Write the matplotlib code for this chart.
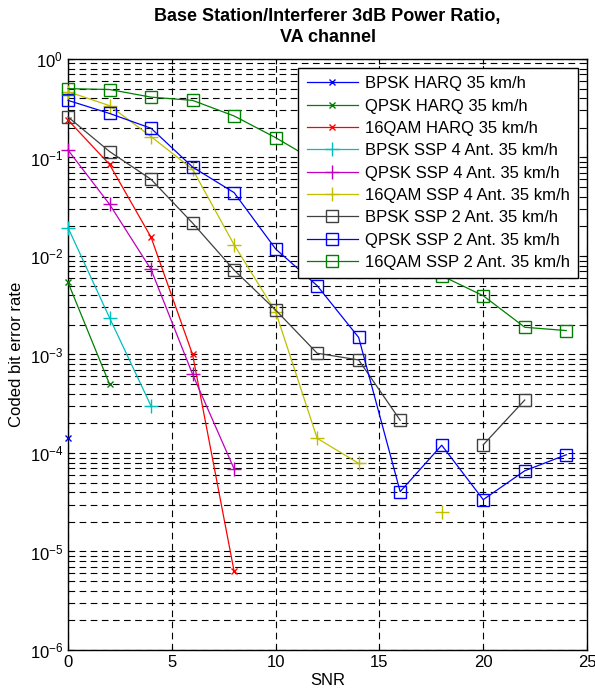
import numpy as np
import matplotlib
matplotlib.use('Agg')
import matplotlib.pyplot as plt

plt.rcParams['font.family'] = ['Liberation Sans', 'DejaVu Sans']
plt.rcParams['mathtext.default'] = 'regular'
plt.rcParams['font.size'] = 12

# SNR points and coded bit error rates (nan = no point)
snr = [0, 2, 4, 6, 8, 10, 12, 14, 16, 18, 20, 22, 24]
nan = np.nan
bpsk_harq = [1.43e-4]
qpsk_harq = [5.4e-3, 5.0e-4]
qam16_harq = [0.24, 0.085, 0.0155, 1.0e-3, 6.3e-6]
bpsk_ssp4 = [0.0194, 2.36e-3, 3.0e-4]
qpsk_ssp4 = [0.119, 0.0335, 7.3e-3, 6.3e-4, 6.9e-5]
qam16_ssp4 = [0.466, 0.336, 0.163, 0.076, 0.013, 2.72e-3, 1.41e-4, 7.85e-5, nan, 2.54e-5]
bpsk_ssp2 = [0.258, 0.115, 0.060, 0.0216, 7.2e-3, 2.83e-3, 1.03e-3, 8.8e-4, 2.15e-4, nan, 1.21e-4, 3.45e-4]
qpsk_ssp2 = [0.38, 0.28, 0.198, 0.080, 0.044, 0.0118, 5.0e-3, 1.49e-3, 4.05e-5, 1.2e-4, 3.36e-5, 6.6e-5, 9.6e-5]
qam16_ssp2 = [0.50, 0.49, 0.41, 0.38, 0.264, 0.159, 0.09, 0.04, 0.015, 6.3e-3, 3.95e-3, 1.89e-3, 1.75e-3]

labels = ['BPSK HARQ 35 km/h', 'QPSK HARQ 35 km/h', '16QAM HARQ 35 km/h',
          'BPSK SSP 4 Ant. 35 km/h', 'QPSK SSP 4 Ant. 35 km/h', '16QAM SSP 4 Ant. 35 km/h',
          'BPSK SSP 2 Ant. 35 km/h', 'QPSK SSP 2 Ant. 35 km/h', '16QAM SSP 2 Ant. 35 km/h']
series = [bpsk_harq, qpsk_harq, qam16_harq, bpsk_ssp4, qpsk_ssp4, qam16_ssp4,
          bpsk_ssp2, qpsk_ssp2, qam16_ssp2]
colors = [(0, 0, 1), (0, 0.5, 0), (1, 0, 0), (0, 0.75, 0.75), (0.75, 0, 0.75),
          (0.75, 0.75, 0), (0.25, 0.25, 0.25), (0, 0, 1), (0, 0.5, 0)]
markers = ['x', 'x', 'x', '+', '+', '+', 's', 's', 's']
msizes = [5, 5, 5, 10, 10, 10, 9, 9, 9]

fig = plt.figure(figsize=(5.95, 6.94), dpi=100)
ax = fig.add_axes([0.1143, 0.0634, 0.8723, 0.8516])

for y, c, m, ms, lab in zip(series, colors, markers, msizes, labels):
    x = snr[:len(y)]
    ax.plot(x, y, color=c, marker=m, markersize=ms, markerfacecolor='none',
            markeredgecolor=c, linewidth=0.9, label=lab, clip_on=False, zorder=3)

ax.set_yscale('log')
ax.set_xlim(0, 25)
ax.set_ylim(1e-6, 1)
ax.set_xticks([0, 5, 10, 15, 20, 25])
ax.grid(True, which='major', axis='both', color='black', linestyle=(0, (6, 4)), linewidth=0.8)
ax.grid(True, which='minor', axis='y', color='black', linestyle=(0, (6, 4)), linewidth=0.8)
ax.tick_params(which='both', direction='in', top=True, right=True, labelsize=12)
for s in ax.spines.values():
    s.set_linewidth(1.0)

ax.set_xlabel('SNR', fontsize=12, labelpad=2)
ax.set_ylabel('Coded bit error rate', fontsize=12)
ax.set_title('Base Station/Interferer 3dB Power Ratio,\nVA channel', fontsize=13,
             fontweight='bold', pad=12, linespacing=1.35)

leg = ax.legend(loc='upper right', bbox_to_anchor=(0.983, 0.985), fontsize=12,
                frameon=True, fancybox=False, edgecolor='black', framealpha=1,
                handlelength=3.1, labelspacing=0.44, borderpad=0.5, handletextpad=0.4,
                borderaxespad=0.0)
leg.get_frame().set_linewidth(1.0)
leg.set_zorder(5)

fig.savefig('out.png', dpi=100)
